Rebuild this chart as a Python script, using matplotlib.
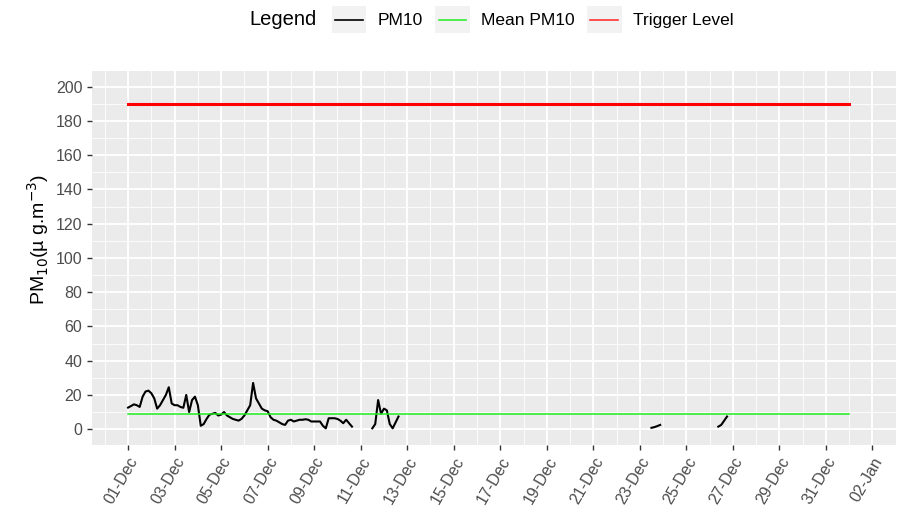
import numpy as np
import pandas as pd
import matplotlib
matplotlib.use("Agg")
import matplotlib.pyplot as plt
import matplotlib.dates as mdates
from matplotlib.lines import Line2D
from matplotlib.patches import Rectangle
from matplotlib.legend_handler import HandlerBase

plt.rcParams["font.family"] = ["Liberation Sans", "DejaVu Sans"]

# PM10 readings, 3-hourly (ug/m3)
seg1_start = "2019-12-01 00:00"
seg1_vals = [12.6, 13.5, 14.5, 14.0, 13.0, 19.0, 22.0, 22.5, 21.0, 18.0,
             12.0, 14.0, 17.0, 20.0, 24.5, 15.0, 14.0, 14.0, 13.0, 12.5,
             20.0, 10.0, 17.0, 19.0, 14.0, 2.0, 3.0, 6.0, 8.5, 9.0,
             9.5, 8.0, 8.5, 10.0, 8.0, 7.0, 6.0, 5.5, 5.0, 6.0,
             8.0, 11.0, 14.0, 27.0, 18.0, 15.0, 12.0, 11.0, 10.5, 7.0,
             5.5, 5.0, 4.0, 3.0, 2.5, 5.0, 5.5, 4.5, 5.0, 5.5,
             5.5, 5.8, 5.5, 4.5, 4.5, 4.5, 4.5, 2.0, 0.5, 6.4,
             6.4, 6.4, 6.0, 5.0, 3.5, 5.5, 3.5, 1.5]
seg2_start = "2019-12-11 12:00"
seg2_vals = [0.5, 3.0, 17.0, 9.0, 12.0, 11.0, 3.0, 0.5, 4.0, 7.4]
seg3_start = "2019-12-23 12:00"
seg3_vals = [0.8, 1.2, 1.8, 2.5]
seg4_start = "2019-12-26 09:00"
seg4_vals = [1.5, 2.5, 5.0, 7.4]

mean_pm10 = 8.6
trigger_level = 190
period_start = "2019-12-01 00:00"
period_end = "2020-01-01 00:00"

# build the full 3-hourly series with gaps
idx = pd.date_range(period_start, period_end, freq="3h")
pm10 = pd.Series(np.nan, index=idx)
for start, vals in [(seg1_start, seg1_vals), (seg2_start, seg2_vals),
                    (seg3_start, seg3_vals), (seg4_start, seg4_vals)]:
    times = pd.date_range(start, periods=len(vals), freq="3h")
    pm10.loc[times] = vals

fig = plt.figure(figsize=(9.04, 5.2), dpi=100)
ax = fig.add_axes([0.1018, 0.144, 0.889, 0.72])
ax.set_facecolor("#EBEBEB")
for s in ax.spines.values():
    s.set_visible(False)

t0 = mdates.date2num(pd.Timestamp(period_start))
t1 = mdates.date2num(pd.Timestamp(period_end))
pad = (t1 - t0) * 0.05
ax.set_xlim(t0 - pad, t1 + pad)
ax.set_ylim(-9.3, 209.3)

ticks = pd.date_range("2019-12-01", "2020-01-02", freq="2D")
ax.set_xticks(mdates.date2num(ticks))
minor = pd.date_range("2019-11-30", "2020-01-03", freq="2D")
ax.set_xticks(mdates.date2num(minor), minor=True)
ax.xaxis.set_major_formatter(mdates.DateFormatter("%d-%b"))
ax.set_yticks(np.arange(0, 201, 20))
ax.set_yticks(np.arange(10, 201, 20), minor=True)

ax.grid(which="major", color="white", linewidth=1.3)
ax.grid(which="minor", color="white", linewidth=0.6)
ax.set_axisbelow(True)
ax.tick_params(which="major", length=3.5, color="#333333", width=1,
               labelcolor="#4D4D4D", labelsize=11.5)
ax.tick_params(which="minor", length=0)
plt.setp(ax.get_xticklabels(), rotation=60, ha="right", rotation_mode="anchor")

ax.plot(pm10.index, pm10.values, color="black", linewidth=1.5)
ax.plot([pd.Timestamp(period_start), pd.Timestamp(period_end)], [mean_pm10, mean_pm10],
        color="#22EE22", linewidth=1.1)
ax.plot([pd.Timestamp(period_start), pd.Timestamp(period_end)], [trigger_level, trigger_level],
        color="#FF0000", linewidth=2.2)

ax.set_ylabel("PM$_{10}$(µ g.m$^{-3}$)", fontsize=14)
ax.yaxis.set_label_coords(-0.051, 0.55)


# legend on top, ggplot style: line drawn over a grey key box
class KeyHandler(HandlerBase):
    def create_artists(self, legend, orig_handle, xdescent, ydescent,
                       width, height, fontsize, trans):
        box = Rectangle((-xdescent, -ydescent), width, height,
                        facecolor="#F2F2F2", edgecolor="none", transform=trans)
        y = -ydescent + height / 2
        line = Line2D([-xdescent + width * 0.1, -xdescent + width * 0.9], [y, y],
                      color=orig_handle.get_color(), linewidth=1.2, transform=trans)
        return [box, line]


handles = [Line2D([], [], color="black"), Line2D([], [], color="#33EE33"),
           Line2D([], [], color="#FF3333")]
fig.text(0.276, 0.962, "Legend", ha="left", va="center", fontsize=14.5)
fig.legend(handles, ["PM10", "Mean PM10", "Trigger Level"],
           handler_map={Line2D: KeyHandler()},
           loc="center left", bbox_to_anchor=(0.367, 0.962), ncol=3, frameon=False,
           fontsize=12.5, handlelength=2.0, handleheight=2.0, columnspacing=0.7,
           handletextpad=0.65, borderpad=0, borderaxespad=0)

fig.savefig("out.png", dpi=100)
